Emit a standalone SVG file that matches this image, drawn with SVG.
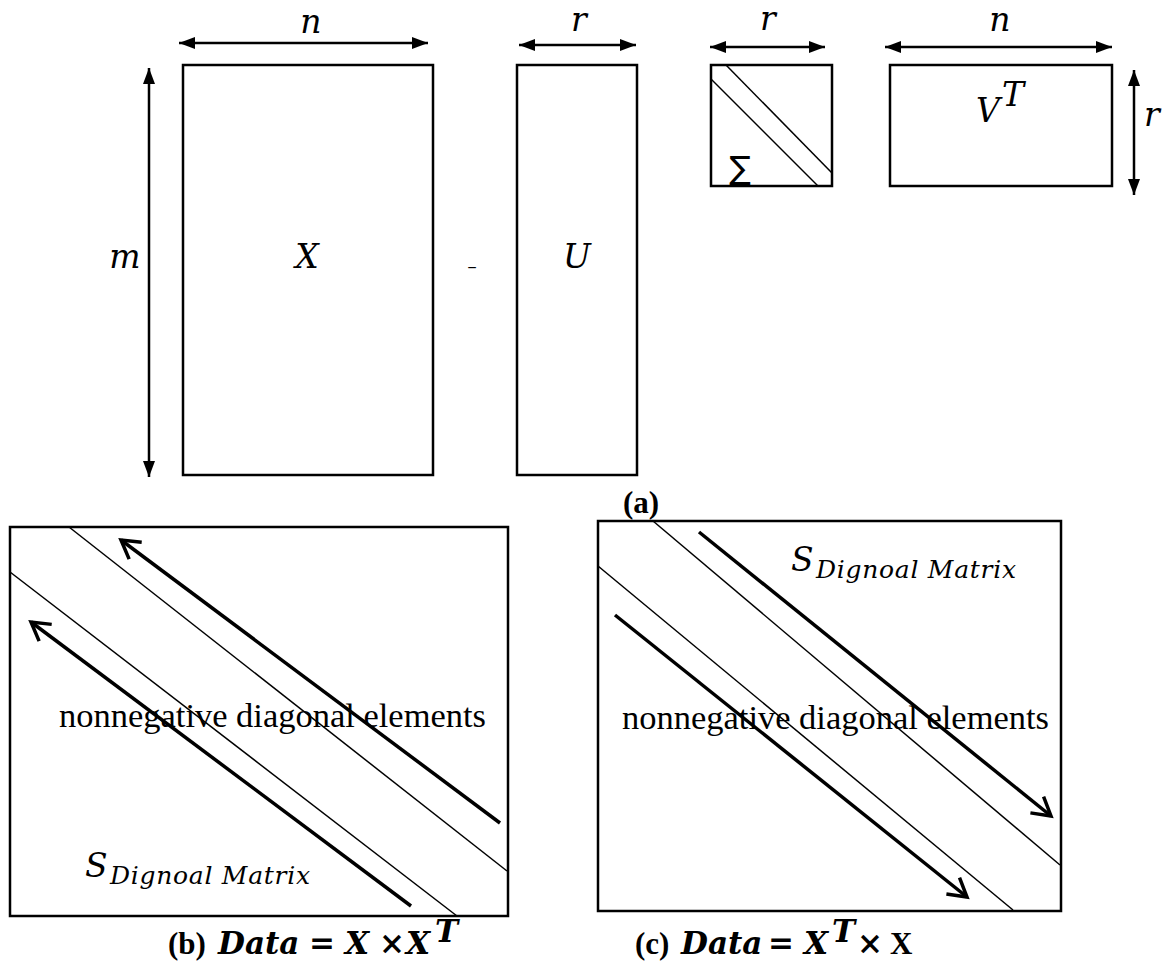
<svg xmlns="http://www.w3.org/2000/svg" width="1163" height="961" viewBox="0 0 1163 961">
<style>
.box{fill:none;stroke:#000;stroke-width:2.5}
.thin{stroke:#000;stroke-width:1.5;fill:none}
.thick{stroke:#000;stroke-width:3.5;fill:none;marker-end:url(#open)}
.dim{stroke:#000;stroke-width:2.5;fill:none;marker-start:url(#solid);marker-end:url(#solid)}
.math{font-family:"DejaVu Serif",serif;font-style:italic;font-size:33px;fill:#000}
.txt{font-family:"Liberation Serif","Times New Roman",serif;font-size:34.5px;fill:#000}
.cap{font-family:"Liberation Serif","Times New Roman",serif;font-weight:bold;font-size:31px;fill:#000}
.capm{font-family:"DejaVu Serif",serif;font-weight:bold;font-style:italic;font-size:31px;fill:#000}
.sub{font-family:"DejaVu Serif",serif;font-style:italic;font-size:25px;fill:#000}
</style>
<defs>
<marker id="solid" markerUnits="userSpaceOnUse" markerWidth="16" markerHeight="12" refX="16" refY="6" orient="auto-start-reverse">
<path d="M0,0 L16,6 L0,12 z" fill="#000"/>
</marker>
<marker id="open" markerUnits="userSpaceOnUse" markerWidth="22" markerHeight="25" refX="18" refY="10.5" orient="auto" overflow="visible">
<path d="M0,0 L18,10.5 L0,21" fill="none" stroke="#000" stroke-width="3.5" stroke-linejoin="miter"/>
</marker>
</defs>
<g id="matrix-X">
<rect class="box" x="183" y="65" width="250" height="410"/>
<text class="math" x="307" y="268" text-anchor="middle">X</text>
</g>
<g id="equals-sign">
<text x="472" y="273" text-anchor="middle" font-family="Liberation Sans,Arial,sans-serif" font-size="16">−</text>
</g>
<g id="matrix-U">
<rect class="box" x="517" y="65" width="120" height="410"/>
<text class="math" x="577" y="268" text-anchor="middle">U</text>
</g>
<g id="matrix-Sigma">
<rect class="box" x="711" y="65" width="121" height="121"/>
<line class="thin" x1="726" y1="65" x2="832" y2="173"/>
<line class="thin" x1="711" y1="79" x2="818" y2="186"/>
<text x="740" y="179" text-anchor="middle" font-family="DejaVu Sans,sans-serif" font-size="32">∑</text>
</g>
<g id="matrix-VT">
<rect class="box" x="890" y="65" width="222" height="121"/>
<text class="math" x="988" y="122" text-anchor="middle">V</text>
<text class="math" x="1002" y="106" font-size="20">T</text>
</g>
<g id="dimensions">
<line class="dim" x1="179" y1="43" x2="428" y2="43"/>
<text class="math" x="311" y="33" text-anchor="middle">n</text>
<line class="dim" x1="149" y1="68" x2="149" y2="477"/>
<text class="math" x="125" y="268" text-anchor="middle">m</text>
<line class="dim" x1="519" y1="45" x2="636" y2="45"/>
<text class="math" x="579" y="31" text-anchor="middle">r</text>
<line class="dim" x1="710" y1="47" x2="825" y2="47"/>
<text class="math" x="768" y="30" text-anchor="middle">r</text>
<line class="dim" x1="885" y1="47" x2="1112" y2="47"/>
<text class="math" x="1000" y="31" text-anchor="middle">n</text>
<line class="dim" x1="1134" y1="70" x2="1134" y2="195"/>
<text class="math" x="1152" y="126" text-anchor="middle">r</text>
</g>
<g id="label-a">
<text class="cap" x="641" y="513" text-anchor="middle">(a)</text>
</g>
<g id="panel-b">
<rect class="box" x="10" y="527" width="498" height="389"/>
<line class="thin" x1="69" y1="527" x2="507" y2="871"/>
<line class="thin" x1="10" y1="572" x2="457" y2="916"/>
<text class="txt" x="59" y="727" textLength="427" lengthAdjust="spacingAndGlyphs">nonnegative diagonal elements</text>
<text class="math" x="85" y="877" font-size="34">S</text>
<text class="sub" x="110" y="884" textLength="200" lengthAdjust="spacing">Dignoal Matrix</text>
</g>
<g id="panel-c">
<rect class="box" x="598" y="521" width="463" height="390"/>
<line class="thin" x1="653" y1="521" x2="1060" y2="865"/>
<line class="thin" x1="598" y1="566" x2="1013" y2="910"/>
<text class="txt" x="622" y="729" textLength="427" lengthAdjust="spacingAndGlyphs">nonnegative diagonal elements</text>
<text class="math" x="791" y="571" font-size="34">S</text>
<text class="sub" x="816" y="578" textLength="200" lengthAdjust="spacing">Dignoal Matrix</text>
</g>
<g id="connectors">
<line class="thick" x1="500" y1="823" x2="121" y2="540"/>
<line class="thick" x1="411" y1="906" x2="31" y2="622"/>
<line class="thick" x1="699" y1="532" x2="1051" y2="816"/>
<line class="thick" x1="615" y1="615" x2="967" y2="897"/>
</g>
<g id="caption-b">
<text y="954"><tspan class="cap" x="168">(b)</tspan><tspan class="capm" x="218">Data</tspan><tspan class="capm" x="309">=</tspan><tspan class="capm" x="345">X</tspan><tspan class="capm" x="379">×</tspan><tspan class="capm" x="406">X</tspan><tspan class="capm" x="435" dy="-12" font-size="16">T</tspan></text>
</g>
<g id="caption-c">
<text y="954"><tspan class="cap" x="635">(c)</tspan><tspan class="capm" x="681">Data</tspan><tspan class="capm" x="768">=</tspan><tspan class="capm" x="804">X</tspan><tspan class="capm" x="832" dy="-12" font-size="16">T</tspan><tspan class="capm" x="857" dy="12">×</tspan><tspan class="cap" x="890">X</tspan></text>
</g>
</svg>
